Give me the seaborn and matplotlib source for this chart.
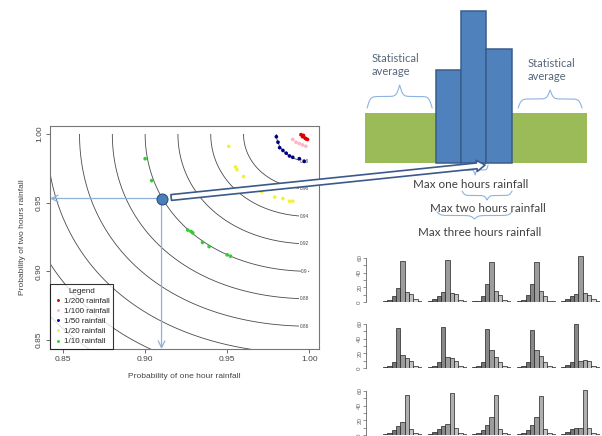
import numpy as np
import pandas as pd
import matplotlib
matplotlib.use("Agg")
import matplotlib.pyplot as plt
import seaborn as sns
from matplotlib.patches import ConnectionPatch

# ---- contour plot: joint probability of 1h / 2h rainfall (gumbel copula) ----
theta = 2.0
contour_levels = [0.70, 0.72, 0.74, 0.76, 0.78, 0.80, 0.82, 0.84, 0.86, 0.88, 0.90, 0.92, 0.94, 0.96, 0.98]
label_levels = [0.86, 0.88, 0.90, 0.92, 0.94, 0.96, 0.98]
label_texts = ["0.86", "0.88", "0.9", "0.92", "0.94", "0.96", "0.98"]

rp_labels = ["1/200 rainfall", "1/100 rainfall", "1/50 rainfall", "1/20 rainfall", "1/10 rainfall"]
rp_colors = ["#dd0000", "#ffb3c6", "#00008b", "#f2f23a", "#33cc33"]
u_200 = [0.995, 0.996, 0.9975, 0.999, 0.998, 0.9965]
v_200 = [0.9995, 0.998, 0.997, 0.996, 0.9965, 0.9990]
u_100 = [0.990, 0.992, 0.994, 0.996, 0.998]
v_100 = [0.996, 0.994, 0.993, 0.992, 0.991]
u_50 = [0.980, 0.981, 0.982, 0.984, 0.986, 0.988, 0.990, 0.994, 0.997]
v_50 = [0.998, 0.994, 0.990, 0.988, 0.986, 0.984, 0.983, 0.982, 0.980]
u_20 = [0.951, 0.955, 0.956, 0.960, 0.971, 0.979, 0.984, 0.988, 0.990]
v_20 = [0.991, 0.976, 0.974, 0.969, 0.958, 0.954, 0.953, 0.951, 0.951]
u_10 = [0.900, 0.904, 0.926, 0.928, 0.929, 0.935, 0.939, 0.950, 0.952]
v_10 = [0.982, 0.966, 0.930, 0.929, 0.928, 0.921, 0.918, 0.912, 0.911]
design_u, design_v = 0.910, 0.953

# ---- schematic of the rainfall event ----
avg_rain = 1.0
peak_hours = [1.86, 3.04, 2.28]

# ---- small histograms (3 rows x 5 columns) ----
hist_row1 = [[1, 3, 8, 19, 56, 14, 11, 4, 1], [1, 4, 8, 14, 57, 12, 11, 3, 1],
             [1, 2, 8, 24, 55, 15, 9, 3, 1], [1, 3, 9, 24, 55, 15, 8, 2, 1],
             [2, 4, 8, 11, 62, 12, 10, 4, 1]]
hist_row2 = [[1, 3, 8, 55, 18, 13, 9, 3, 1], [1, 3, 8, 56, 15, 13, 10, 3, 1],
             [1, 3, 8, 53, 24, 15, 8, 3, 1], [1, 3, 8, 52, 24, 16, 8, 3, 1],
             [1, 4, 8, 60, 10, 11, 10, 3, 1]]
hist_row3 = [[1, 3, 7, 12, 18, 55, 8, 3, 1], [1, 4, 8, 12, 15, 57, 9, 3, 1],
             [1, 3, 7, 14, 24, 55, 8, 3, 1], [1, 3, 7, 14, 25, 53, 8, 3, 1],
             [1, 4, 8, 10, 10, 61, 9, 3, 1]]

sns.set_theme(style="white")
plt.rcParams["font.family"] = ["Liberation Sans", "DejaVu Sans"]

W, H = 602, 436
fig = plt.figure(figsize=(W / 100, H / 100), dpi=100)

def px_axes(x0, y0, x1, y1):
    # axes from pixel box (top-left origin)
    return fig.add_axes([x0 / W, (H - y1) / H, (x1 - x0) / W, (y1 - y0) / H])

# ================= main contour plot =================
ax = px_axes(50, 126, 319, 349)
g = np.linspace(0.80, 1.0, 500)
U, V = np.meshgrid(g, g)
Z = np.exp(-((-np.log(U)) ** theta + (-np.log(V)) ** theta) ** (1 / theta))
ax.contour(U, V, Z, levels=contour_levels, colors="#4a4a4a", linewidths=0.6)
for lv, lt in zip(label_levels, label_texts):
    ax.text(0.9972, lv, lt, fontsize=3.4, color="#444444", ha="center", va="center",
            bbox=dict(facecolor="white", edgecolor="none", pad=0.4), zorder=3)

pts = pd.DataFrame({
    "u": u_200 + u_100 + u_50 + u_20 + u_10,
    "v": v_200 + v_100 + v_50 + v_20 + v_10,
    "rp": [rp_labels[0]] * len(u_200) + [rp_labels[1]] * len(u_100) + [rp_labels[2]] * len(u_50)
          + [rp_labels[3]] * len(u_20) + [rp_labels[4]] * len(u_10),
})
sns.scatterplot(data=pts, x="u", y="v", hue="rp", hue_order=rp_labels, palette=rp_colors,
                s=7, linewidth=0, ax=ax, zorder=4)

guide = "#8fb1d8"
ax.annotate("", xy=(0.842, design_v), xytext=(design_u, design_v),
            arrowprops=dict(arrowstyle="->", color=guide, lw=0.9, shrinkA=0, shrinkB=0))
ax.annotate("", xy=(design_u, 0.8434), xytext=(design_u, design_v),
            arrowprops=dict(arrowstyle="->", color=guide, lw=0.9, shrinkA=0, shrinkB=0))
ax.scatter([design_u], [design_v], s=62, color="#4a7ebb", edgecolor="#2b5180", linewidth=0.8, zorder=6)

ax.set_xlim(0.842, 1.006)
ax.set_ylim(0.8434, 1.0058)
ax.set_xticks([0.85, 0.90, 0.95, 1.00])
ax.set_xticklabels(["0.85", "0.90", "0.95", "1.00"])
ax.set_yticks([0.85, 0.90, 0.95, 1.00])
ax.set_yticklabels(["0.85", "0.90", "0.95", "1.00"], rotation=90, va="center")
ax.tick_params(direction="out", length=3, width=0.6, color="#555555", labelsize=6,
               labelcolor="#444444", left=True, bottom=True, pad=2)
for s in ax.spines.values():
    s.set_color("#777777")
    s.set_linewidth(0.8)
ax.set_xlabel("Probability of one hour rainfall", fontsize=6, color="#444444", labelpad=7)
ax.set_ylabel("Probability of two hours rainfall", fontsize=6, color="#444444", labelpad=7)

handles, labels = ax.get_legend_handles_labels()
leg = ax.legend(handles, labels, title="Legend", loc="lower left", borderaxespad=0,
                frameon=True, fancybox=False, fontsize=5.8, title_fontsize=5.8,
                markerscale=0.8, handletextpad=0.3, labelspacing=0.3, handlelength=1.0,
                borderpad=0.45)
leg.get_frame().set_edgecolor("black")
leg.get_frame().set_linewidth(0.8)

# ================= schematic =================
axd = px_axes(340, 0, 602, 245)
axd.set_xlim(-4.306, 6.09)
axd.set_ylim(-1.64, 3.26)
axd.axis("off")
axd.bar(-0.5, avg_rain, width=-2.8, align="edge", color="#9bbb59", linewidth=0)
axd.bar(2.5, avg_rain, width=3.0, align="edge", color="#9bbb59", linewidth=0)
axd.bar(range(len(peak_hours)), peak_hours, width=1, color="#4f81bd", edgecolor="#385d8a", linewidth=1.1)

def brace(a, x0, x1, y, h, color="#8db3e2"):
    n = 201
    x = np.linspace(x0, x1, n)
    half = x[: n // 2 + 1]
    beta = 40.0 / (x1 - x0)
    yh = 1 / (1 + np.exp(-beta * (half - half[0]))) + 1 / (1 + np.exp(-beta * (half - half[-1])))
    yy = np.concatenate((yh, yh[-2::-1])) - 0.5
    a.plot(x, y + h * yy, color=color, lw=0.8)

brace(axd, -3.23, -0.65, 1.10, 0.46)
brace(axd, 2.76, 5.30, 1.10, 0.36)
brace(axd, 0.54, 1.57, -0.04, -0.20)
brace(axd, 0.54, 2.52, -0.56, -0.18)
brace(axd, -0.46, 2.52, -0.98, -0.14)

tfont = ["Lato", "DejaVu Sans"]
axd.text(-3.04, 1.96, "Statistical\naverage", fontsize=8, family=tfont, color="#56677a",
         ha="left", va="center", linespacing=1.3)
axd.text(3.12, 1.86, "Statistical\naverage", fontsize=8, family=tfont, color="#56677a",
         ha="left", va="center", linespacing=1.3)
axd.text(0.89, -0.44, "Max one hours rainfall", fontsize=8.4, family=tfont, color="#404040",
         ha="center", va="center")
axd.text(1.57, -0.90, "Max two hours rainfall", fontsize=8.4, family=tfont, color="#404040",
         ha="center", va="center")
axd.text(1.25, -1.38, "Max three hours rainfall", fontsize=8.4, family=tfont, color="#404040",
         ha="center", va="center")

con = ConnectionPatch(xyA=(design_u, design_v), coordsA="data", axesA=ax,
                      xyB=(1.45, -0.04), coordsB="data", axesB=axd,
                      arrowstyle="simple,head_length=0.6,head_width=0.8,tail_width=0.42",
                      mutation_scale=10, shrinkA=7, shrinkB=0,
                      facecolor="white", edgecolor="#3a5a8c", linewidth=1.2, zorder=10)
fig.add_artist(con)

# ================= histogram grid =================
col_left = [383, 428, 472, 517, 561]
row_bottom = [302, 368, 435]
n_bins = len(hist_row1[0])
greys = [str(round(g_, 3)) for g_ in np.linspace(0.3, 0.92, n_bins)]
for r, row in enumerate([hist_row1, hist_row2, hist_row3]):
    for c, vals in enumerate(row):
        axh = px_axes(col_left[c], row_bottom[r] - 47, col_left[c] + 39, row_bottom[r])
        sns.barplot(x=list(range(n_bins)), y=vals, hue=list(range(n_bins)), palette=greys,
                    legend=False, width=1, edgecolor="#222222", linewidth=0.5, ax=axh)
        axh.set_ylim(0, 64)
        axh.set_xlim(-0.5, n_bins - 0.5)
        axh.set_xticks([])
        axh.set_xlabel("")
        axh.set_ylabel("")
        if c == 0:
            sns.despine(ax=axh, bottom=True, offset={"left": 12})
            axh.spines["left"].set_bounds(0, 60)
            axh.spines["left"].set_color("#666666")
            axh.spines["left"].set_linewidth(0.6)
            axh.set_yticks([0, 10, 20, 30, 40, 50, 60])
            axh.set_yticklabels(["0", "", "20", "", "40", "", "60"], rotation=90, va="center")
            axh.tick_params(axis="y", left=True, length=2, width=0.5, color="#666666",
                            labelsize=4.5, labelcolor="#666666", pad=1)
        else:
            axh.axis("off")

fig.savefig("out.png", dpi=100, facecolor="white")
